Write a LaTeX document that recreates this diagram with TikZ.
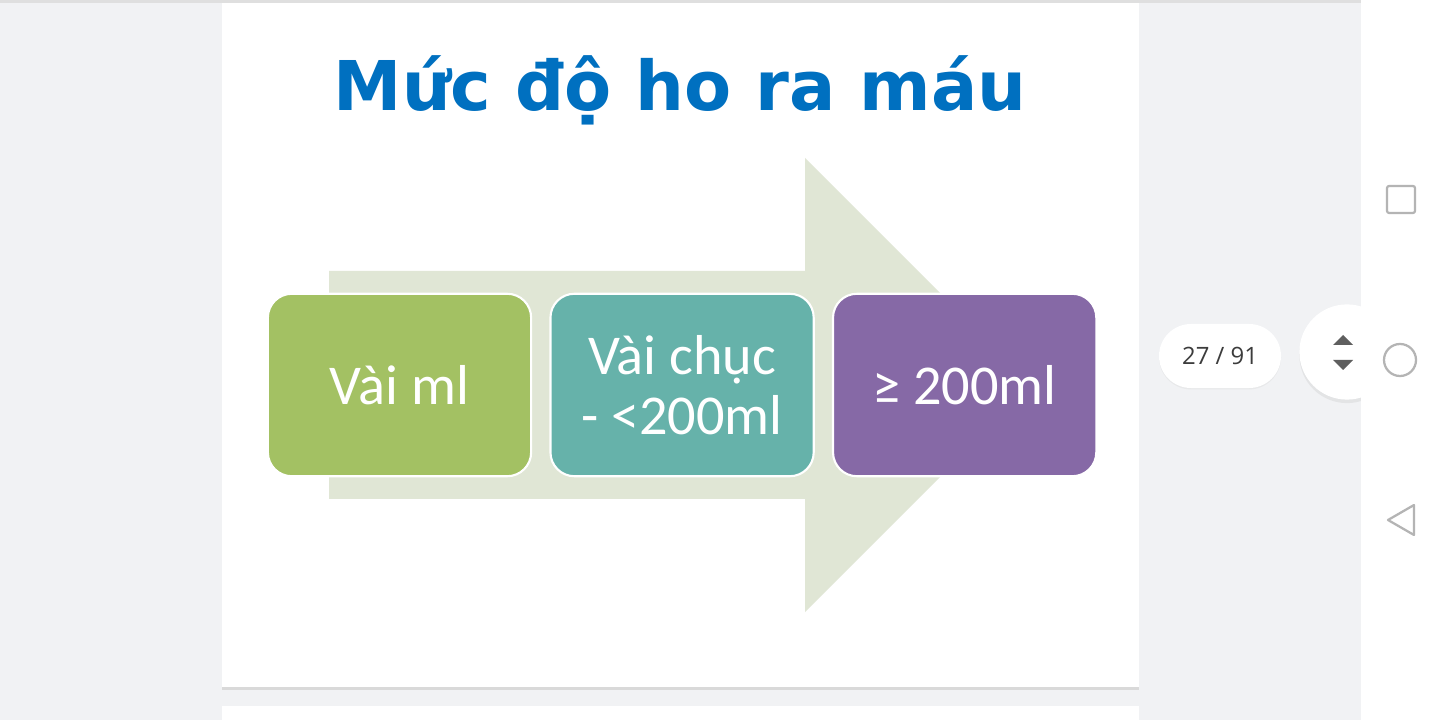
\documentclass[tikz,border=0pt]{standalone}
\usepackage{fontspec}
\usetikzlibrary{positioning,shadows}

\newfontfamily\titlefont{DejaVu Sans}
\newfontfamily\boxfont{Carlito}
\newfontfamily\pillfont{Open Sans}

\definecolor{pagegrey}{HTML}{F1F2F4}
\definecolor{titleblue}{HTML}{0070C0}
\definecolor{arrowgreen}{HTML}{E0E6D5}
\definecolor{stagegreen}{HTML}{A3C163}
\definecolor{stageteal}{HTML}{66B2AA}
\definecolor{stagepurple}{HTML}{8669A6}
\definecolor{navgrey}{HTML}{B4B4B4}
\definecolor{pagetext}{HTML}{3C3C3C}
\definecolor{updown}{HTML}{5F5F5F}

\tikzset{
  stage/.style={rounded corners=17pt, draw=white, line width=1.5pt,
    minimum width=6.58cm, minimum height=4.56cm, inner sep=0pt,
    text=white, align=center, font=\boxfont\fontsize{40}{43}\selectfont},
  navicon/.style={draw=navgrey, line width=1.6pt, line join=round},
  pill/.style={fill=white, rounded corners=0.8cm, minimum width=3.05cm,
    minimum height=1.6cm, text=pagetext, font=\pillfont\fontsize{17}{20}\selectfont,
    drop shadow={opacity=0.08, shadow xshift=0pt, shadow yshift=-1pt}}
}

\begin{document}
\begin{tikzpicture}[x=0.025cm, y=-0.025cm]
  \useasboundingbox (0,0) rectangle (1440,720);
  \fill[pagegrey] (0,0) rectangle (1440,720);
  \fill[gray!25] (0,0) rectangle (1361,3);

  % slide
  \fill[white] (222,3) rectangle (1139,687);
  \fill[gray!30] (222,687) rectangle (1139,690);
  \fill[white] (222,706) rectangle (1139,720);

  \node[anchor=base, text=titleblue, inner sep=0pt,
    font=\titlefont\bfseries\fontsize{48.8}{58}\selectfont] (title) at (680,111) {Mức độ ho ra máu};

  % big arrow behind the boxes
  \fill[arrowgreen] (329,271) -- (805,271) -- (805,158) -- (1032,385)
    -- (805,612) -- (805,499) -- (329,499) -- cycle;

  \node[stage, fill=stagegreen] (few) at (399.5,385) {Vài ml};
  \node[stage, fill=stageteal, right=0.43cm of few] (tens) {Vài chục\\- <200ml};
  \node[stage, fill=stagepurple, right=0.43cm of tens] (many) {≥ 200ml};

  % pager
  \node[pill] (pager) at (1220,356) {27 / 91};
  \fill[white, drop shadow={opacity=0.12, shadow xshift=0pt, shadow yshift=-2.5pt}]
    (1347,352) circle (1.19cm);
  \fill[updown] (1333,345) -- (1343,335) -- (1353,345) -- cycle;
  \fill[updown] (1333,360) -- (1353,360) -- (1343,370) -- cycle;

  % navigation bar
  \fill[white] (1361,0) rectangle (1440,720);
  \draw[navicon, rounded corners=1.5pt] (1387,186) rectangle (1415,213);
  \draw[navicon] (1400,360) circle (0.4cm);
  \draw[navicon] (1388,520) -- (1414,505) -- (1414,535) -- cycle;
\end{tikzpicture}
\end{document}
